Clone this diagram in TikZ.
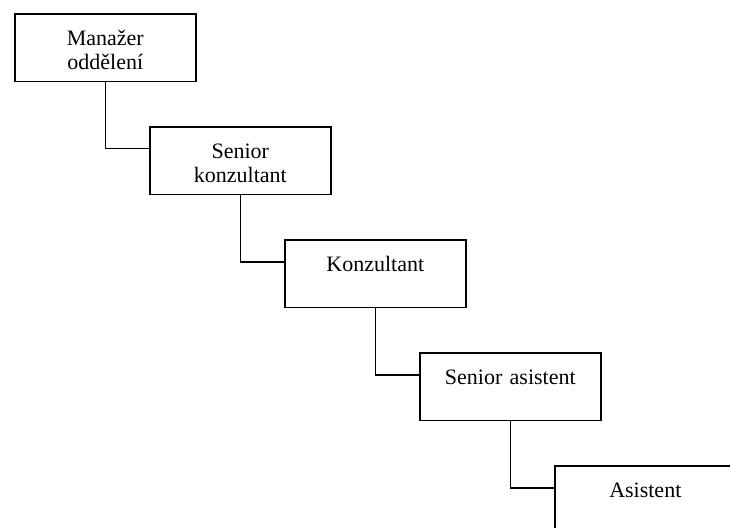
\documentclass[tikz,border=0pt]{standalone}
\usepackage{fontspec}
\setmainfont{Liberation Serif}
\usetikzlibrary{positioning}
\begin{document}
\begin{tikzpicture}[
  x=1pt, y=-1pt,
  node distance=44pt and -47.6pt,
  post/.style={draw, line width=1.6pt, align=center, text width=181pt,
    inner xsep=0pt, inner ysep=17.5pt, text height=14pt, text depth=18.5pt,
    font=\fontsize{22}{24.5}\selectfont},
  link/.style={line width=1.6pt}
]
\useasboundingbox (0,0) rectangle (730,527);
\clip (0,0) rectangle (730,527);
\node[post, anchor=north west] (mgr) at (14,13) {Manažer\\oddělení};
\node[post, below right=of mgr] (skon) {Senior\\konzultant};
\node[post, below right=of skon] (kon) {Konzultant};
\node[post, below right=of kon] (sas) {Senior asistent};
\node[post, below right=of sas] (as) {Asistent};
\draw[link] (mgr.south) |- ([yshift=-22.5pt]skon.north west);
\draw[link] (skon.south) |- ([yshift=-22.5pt]kon.north west);
\draw[link] (kon.south) |- ([yshift=-22.5pt]sas.north west);
\draw[link] (sas.south) |- ([yshift=-22.5pt]as.north west);
\end{tikzpicture}
\end{document}
